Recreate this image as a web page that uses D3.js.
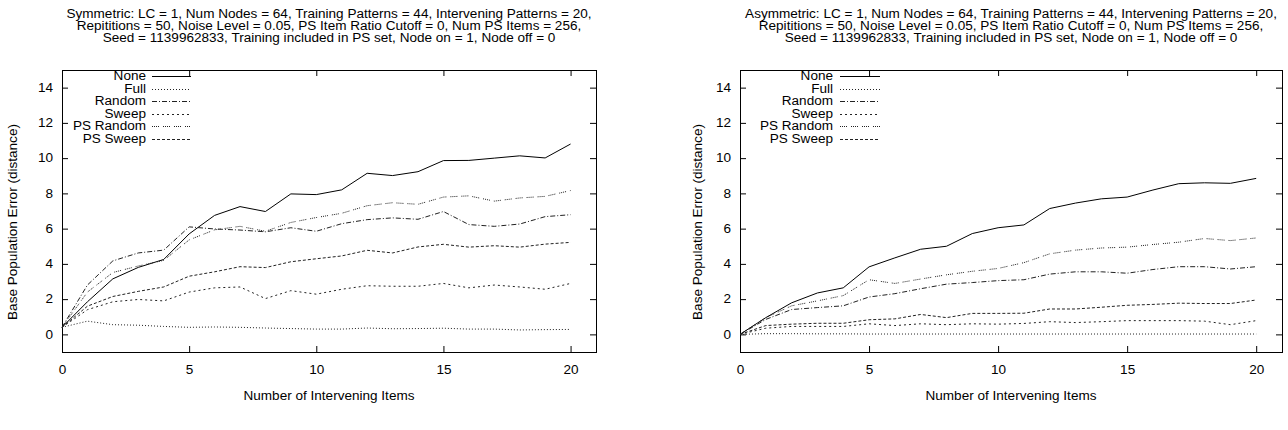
<!DOCTYPE html>
<html><head><meta charset="utf-8">
<script src="https://cdn.jsdelivr.net/npm/d3@7"></script>
<style>
html,body{margin:0;padding:0;background:#fff;}
svg{display:block;}
text{font-family:"Liberation Sans",Arial,Helvetica,sans-serif;font-size:12px;fill:#000;}
</style></head>
<body>
<svg id="chart" width="1288" height="430"></svg>
<script>
const intervening = [0,1,2,3,4,5,6,7,8,9,10,11,12,13,14,15,16,17,18,19,20];
const seriesNames = ["None","Full","Random","Sweep","PS Random","PS Sweep"];
const xTicks = [0,5,10,15,20];
const yTicks = [0,2,4,6,8,10,12,14];

const symNone     = [0.4,1.85,3.15,3.8,4.25,5.7,6.75,7.25,6.97,7.97,7.93,8.2,9.14,9.01,9.23,9.86,9.87,10.0,10.13,10.01,10.8];
const symFull     = [0.4,0.75,0.55,0.52,0.45,0.4,0.42,0.4,0.36,0.33,0.3,0.3,0.36,0.32,0.33,0.35,0.3,0.3,0.25,0.27,0.28];
const symRandom   = [0.4,2.8,4.17,4.62,4.78,6.1,5.98,5.92,5.82,6.05,5.85,6.28,6.51,6.61,6.53,6.97,6.23,6.13,6.26,6.68,6.79];
const symSweep    = [0.4,1.4,1.85,1.98,1.9,2.4,2.64,2.69,2.03,2.48,2.28,2.56,2.76,2.73,2.73,2.89,2.64,2.8,2.69,2.56,2.89];
const symPSRandom = [0.4,2.4,3.51,3.88,4.2,5.36,5.93,6.13,5.85,6.35,6.63,6.87,7.3,7.47,7.38,7.79,7.86,7.56,7.74,7.83,8.16];
const symPSSweep  = [0.4,1.6,2.15,2.44,2.69,3.3,3.55,3.84,3.79,4.12,4.29,4.45,4.77,4.62,4.96,5.11,4.95,5.03,4.95,5.12,5.22];

const asymNone     = [0,0.95,1.79,2.35,2.64,3.83,4.34,4.83,5.0,5.72,6.05,6.21,7.14,7.45,7.69,7.79,8.19,8.55,8.6,8.57,8.85];
const asymFull     = [0,0.04,0.04,0.03,0.03,0.02,0.02,0.02,0.02,0.02,0.02,0.02,0.02,0.02,0.02,0.02,0.02,0.02,0.02,0.02,0.02];
const asymRandom   = [0,0.85,1.41,1.52,1.62,2.12,2.31,2.59,2.85,2.94,3.05,3.1,3.42,3.55,3.55,3.47,3.68,3.84,3.84,3.71,3.84];
const asymSweep    = [0,0.35,0.45,0.45,0.45,0.6,0.5,0.6,0.55,0.6,0.58,0.62,0.72,0.67,0.72,0.78,0.78,0.78,0.75,0.55,0.78];
const asymPSRandom = [0,0.95,1.62,1.9,2.2,3.1,2.89,3.14,3.38,3.58,3.74,4.07,4.57,4.78,4.9,4.95,5.1,5.23,5.44,5.32,5.47];
const asymPSSweep  = [0,0.5,0.58,0.63,0.63,0.83,0.88,1.13,0.95,1.19,1.19,1.2,1.44,1.44,1.54,1.65,1.7,1.77,1.75,1.75,1.95];

const symTitle = [
  "Symmetric: LC = 1, Num Nodes = 64, Training Patterns = 44, Intervening Patterns = 20,",
  "Repititions = 50, Noise Level = 0.05, PS Item Ratio Cutoff = 0, Num PS Items = 256,",
  "Seed = 1139962833, Training included in PS set, Node on = 1, Node off = 0"
];
const asymTitle = [
  "Asymmetric: LC = 1, Num Nodes = 64, Training Patterns = 44, Intervening Patterns = 20,",
  "Repititions = 50, Noise Level = 0.05, PS Item Ratio Cutoff = 0, Num PS Items = 256,",
  "Seed = 1139962833, Training included in PS set, Node on = 1, Node off = 0"
];
const xLabel = "Number of Intervening Items";
const yLabel = "Base Population Error (distance)";

const dashes = ["none","1,2","5,2,1,2","2,3","1,1,1,1,1,1,1,4","3,2"];
const SX = 1.13; // horizontal stretch of the glyphs

const svg = d3.select("#chart");

function addText(g, x, y, str, anchor, rot) {
  return g.append("text")
    .attr("transform", `translate(${x},${y})` + (rot ? ` rotate(${rot})` : "") + ` scale(${SX},1)`)
    .attr("text-anchor", anchor).text(str);
}

function drawPanel(p, titleLines, seriesList) {
  const left = p.left, right = p.right, top = 70, bottom = 352;
  const x = d3.scaleLinear().domain([0,21]).range([left, right]);
  const y = d3.scaleLinear().domain([-1,15]).range([bottom, top]);
  const g = svg.append("g");

  const ax = (sel) => { sel.select(".domain").remove(); sel.selectAll("line").attr("stroke","#000"); };
  const bx = g.append("g").attr("transform",`translate(0,${bottom})`)
    .call(d3.axisBottom(x).tickValues(xTicks).tickSize(-6).tickPadding(13).tickFormat(d3.format("d")))
    .call(ax);
  g.append("g").attr("transform",`translate(0,${top})`)
    .call(d3.axisTop(x).tickValues(xTicks).tickSize(-6).tickFormat(""))
    .call(ax);
  const ly = g.append("g").attr("transform",`translate(${left},0)`)
    .call(d3.axisLeft(y).tickValues(yTicks).tickSize(-6).tickPadding(9).tickFormat(d3.format("d")))
    .call(ax);
  g.append("g").attr("transform",`translate(${right},0)`)
    .call(d3.axisRight(y).tickValues(yTicks).tickSize(-6).tickFormat(""))
    .call(ax);
  g.selectAll(".tick text").attr("font-family",null).attr("font-size",null).attr("fill","#000");
  bx.selectAll(".tick text").attr("transform",`scale(${SX},1)`);
  ly.selectAll(".tick text").each(function(){
    const t = d3.select(this); const xx = +t.attr("x");
    t.attr("x", xx/SX).attr("transform",`scale(${SX},1)`);
  });

  g.append("rect").attr("x",left+0.5).attr("y",top+0.5).attr("width",right-left).attr("height",bottom-top)
    .attr("fill","none").attr("stroke","#000").attr("stroke-width",1);

  const line = d3.line().x((d,i)=>x(intervening[i])).y(d=>y(d));
  seriesList.forEach((vals,k)=>{
    g.append("path").datum(vals).attr("d",line).attr("fill","none")
      .attr("stroke", k===0 ? "#000" : "#222").attr("stroke-width",1)
      .attr("stroke-dasharray",dashes[k]);
  });

  seriesNames.forEach((name,k)=>{
    const yy = 76 + 12.5*k;
    addText(g, p.legText, yy+4.3, name, "end");
    g.append("line").attr("x1",p.legLine[0]).attr("x2",p.legLine[1]).attr("y1",Math.round(yy)+0.5).attr("y2",Math.round(yy)+0.5)
      .attr("stroke", k===0 ? "#000" : "#222").attr("stroke-dasharray",dashes[k]);
  });

  const cx = (left+right)/2;
  titleLines.forEach((t,i)=> addText(g, cx, 17.5+12.2*i, t, "middle"));
  addText(g, cx, 399.5, xLabel, "middle");
  addText(g, p.ylab, 222, yLabel, "middle", -90);
}

drawPanel({left:62, right:596, legText:146, legLine:[152,191], ylab:16.5}, symTitle,
  [symNone,symFull,symRandom,symSweep,symPSRandom,symPSSweep]);
drawPanel({left:740, right:1282, legText:833, legLine:[840,880], ylab:701.5}, asymTitle,
  [asymNone,asymFull,asymRandom,asymSweep,asymPSRandom,asymPSSweep]);
</script>
</body></html>
